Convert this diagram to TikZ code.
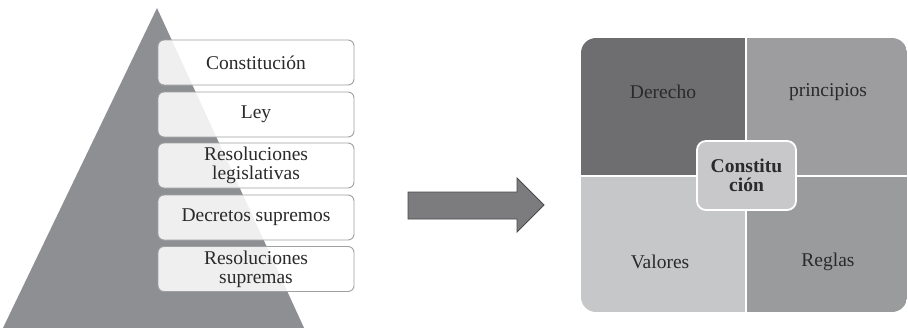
\documentclass[tikz,border=0pt]{standalone}
\usepackage{fontspec}
\setmainfont{Liberation Serif}
\definecolor{pyr}{HTML}{8E8F93}
\definecolor{boxln}{HTML}{A0A0A2}
\definecolor{qdark}{HTML}{6E6E70}
\definecolor{qtr}{HTML}{9D9D9F}
\definecolor{qbl}{HTML}{C6C7C9}
\definecolor{qbr}{HTML}{9A9B9D}
\definecolor{qc}{HTML}{C8C8CA}
\definecolor{arr}{HTML}{7C7C7E}
\definecolor{arrln}{HTML}{4A4A4C}
\definecolor{txt}{HTML}{2A2A2A}
\tikzset{
  levelbox/.style={draw=boxln, line width=0.9pt, fill=white, fill opacity=0.86, text opacity=1,
    rounded corners=6pt, minimum width=196pt, minimum height=45pt, align=center,
    text=txt, font=\fontsize{19.5}{19}\selectfont, inner sep=0pt},
  qlabel/.style={text=txt, font=\fontsize{19.5}{19}\selectfont, inner sep=0pt},
  centerbox/.style={draw=white, line width=1.8pt, fill=qc, rounded corners=9pt,
    minimum width=99pt, minimum height=69pt, align=center, text=txt,
    font=\fontsize{19.5}{19}\selectfont\bfseries, inner sep=0pt},
}
\begin{document}
\begin{tikzpicture}[x=1pt,y=-1pt]
\useasboundingbox (0,0) rectangle (908,327);
% pyramid
\fill[pyr] (157,8) -- (305,330) -- (2,330) -- cycle;
% level boxes
\node[levelbox] (b1) at (256,62.5) {Constitución};
\node[levelbox] (b2) at (256,114.5) {Ley};
\node[levelbox] (b3) at (256,165.5) {Resoluciones\\legislativas};
\node[levelbox] (b4) at (256,217.5) {Decretos supremos};
\node[levelbox] (b5) at (256,269) {Resoluciones\\supremas};
% arrow
\draw[fill=arr, draw=arrln, line width=0.8pt, line join=miter]
  (408,192) -- (517,192) -- (517,178) -- (544,205) -- (517,232) -- (517,219) -- (408,219) -- cycle;
% quadrant panel
\begin{scope}
\clip[rounded corners=15pt] (581,38) rectangle (907,312);
\fill[qdark] (581,38) rectangle (746,176);
\fill[qtr] (746,38) rectangle (907,176);
\fill[qbl] (581,176) rectangle (746,312);
\fill[qbr] (746,176) rectangle (907,312);
\draw[white, line width=1.8pt] (746,38) -- (746,312);
\draw[white, line width=1.8pt] (581,176) -- (907,176);
\end{scope}
\node[qlabel] (derecho) at (663,92) {Derecho};
\node[qlabel] (principios) at (828,92) {principios};
\node[qlabel] (valores) at (660,262) {Valores};
\node[qlabel] (reglas) at (828,262) {Reglas};
\node[centerbox] (center) at (746.5,175.5) {Constitu\\ción};
\end{tikzpicture}
\end{document}
